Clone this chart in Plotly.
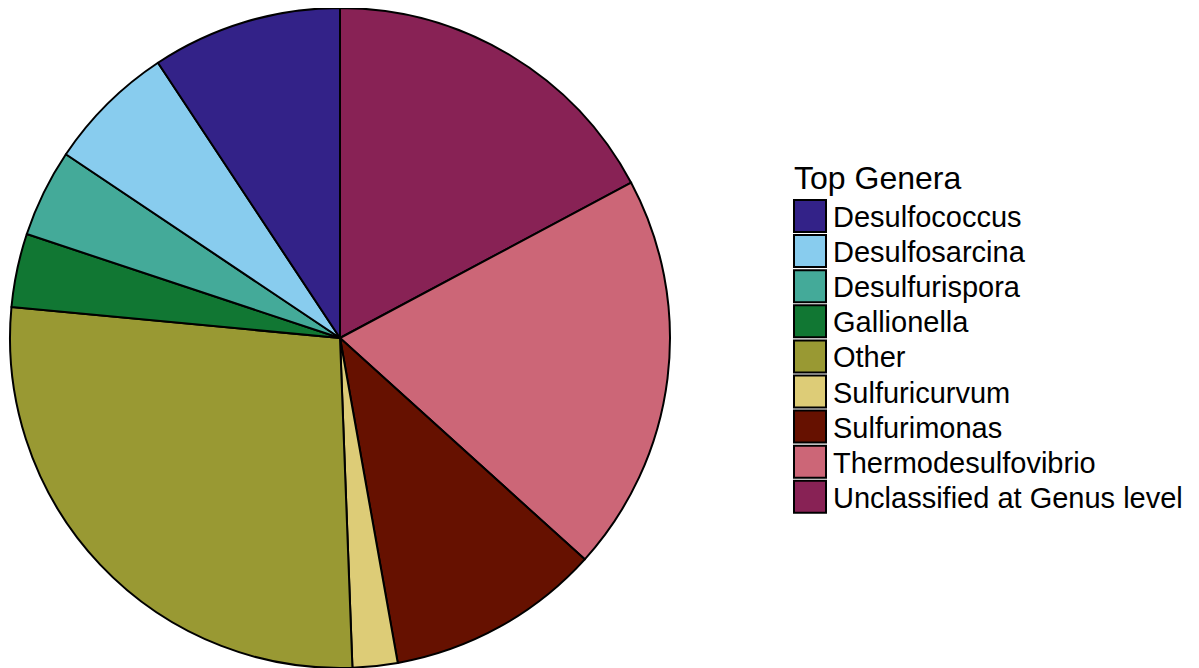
import plotly.graph_objects as go

genera = ["Desulfococcus", "Desulfosarcina", "Desulfurispora", "Gallionella", "Other",
          "Sulfuricurvum", "Sulfurimonas", "Thermodesulfovibrio", "Unclassified at Genus level"]
shares = [9.3, 6.3, 4.3, 3.6, 27.1, 2.2, 10.5, 19.5, 17.2]
colors = ["#332288", "#88CCEE", "#44AA99", "#117733", "#999933",
          "#DDCC77", "#661100", "#CC6677", "#882255"]
legend_title = "Top Genera"

W, H = 1199, 668
OFF = 8  # page body margin
FONT = "Liberation Sans, Arial, Helvetica, sans-serif"


def px(x):
    return (x - OFF) / W


def py(y):
    return 1 - (y - OFF) / H


# slices run counter-clockwise from 12 o'clock in legend order
fig = go.Figure(go.Pie(
    labels=genera[::-1], values=shares[::-1], sort=False, direction="clockwise", rotation=0,
    marker=dict(colors=colors[::-1], line=dict(color="black", width=2)),
    textinfo="none", hoverinfo="label+percent", showlegend=False,
    domain=dict(x=[px(10), px(670)], y=[py(668), py(8)]),
))

shapes, annotations = [], []
top0, pitch, sw = 200, 35.1, 32
x0, x1 = 794, 826
for i, (g, c) in enumerate(zip(genera, colors)):
    t = top0 + i * pitch
    shapes.append(dict(type="rect", xref="paper", yref="paper",
                       x0=px(x0), x1=px(x1), y0=py(t + sw), y1=py(t),
                       fillcolor=c, line=dict(color="black", width=2)))
    annotations.append(dict(xref="paper", yref="paper", x=px(831), y=py(t + sw / 2 + 1),
                            text=g, showarrow=False, xanchor="left", yanchor="middle",
                            font=dict(family=FONT, size=29, color="black")))
annotations.append(dict(xref="paper", yref="paper", x=px(792), y=py(178),
                        text=legend_title, showarrow=False, xanchor="left", yanchor="middle",
                        font=dict(family=FONT, size=32, color="black")))

fig.update_layout(width=W, height=H, margin=dict(l=0, r=0, t=0, b=0),
                  paper_bgcolor="white", plot_bgcolor="white",
                  shapes=shapes, annotations=annotations)
fig.write_html("out.html")
